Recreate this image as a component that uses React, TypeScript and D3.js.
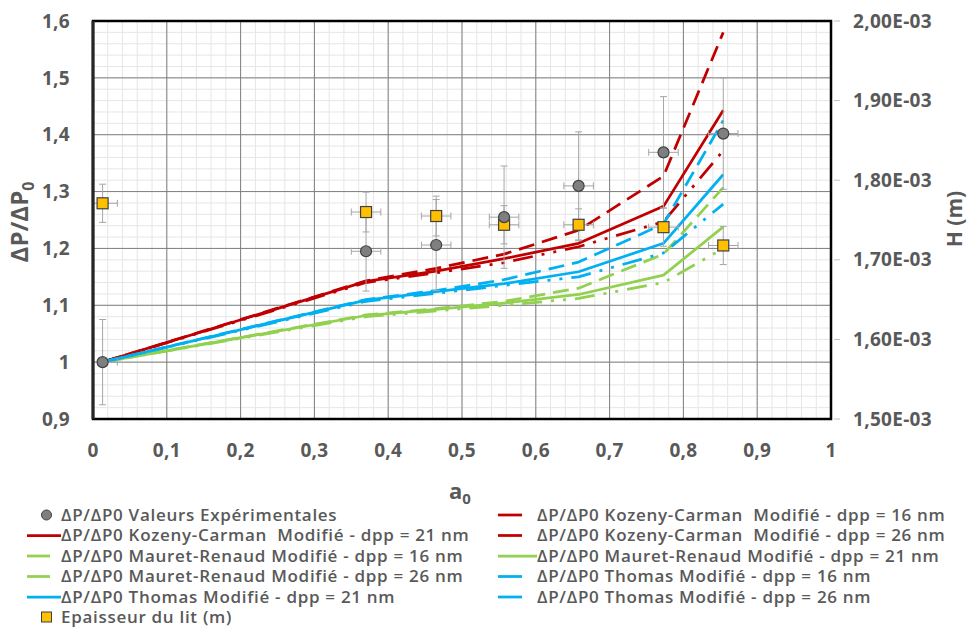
import React from "react";
import * as d3 from "d3";

// ---------- data ----------
const a0 = [0.013, 0.37, 0.465, 0.557, 0.658, 0.773, 0.854];
const a0Err = [0.02, 0.02, 0.02, 0.02, 0.02, 0.02, 0.02];
const expValues = [1.0, 1.195, 1.206, 1.255, 1.31, 1.369, 1.402];
const expErr = [0.075, 0.07, 0.08, 0.09, 0.095, 0.098, 0.098];
const bedThickness = [1.771e-3, 1.760e-3, 1.755e-3, 1.744e-3, 1.744e-3, 1.741e-3, 1.718e-3];
const bedErr = [2.4e-5, 2.5e-5, 2.5e-5, 2.4e-5, 2.0e-5, 2.4e-5, 2.4e-5];

const kc16 = [1.0, 1.143, 1.165, 1.19, 1.232, 1.327, 1.58];
const kc21 = [1.0, 1.142, 1.16, 1.182, 1.209, 1.274, 1.443];
const kc26 = [1.0, 1.14, 1.157, 1.175, 1.203, 1.247, 1.372];
const mr16 = [1.0, 1.083, 1.094, 1.107, 1.13, 1.19, 1.307];
const mr21 = [1.0, 1.082, 1.093, 1.104, 1.119, 1.153, 1.238];
const mr26 = [1.0, 1.08, 1.09, 1.1, 1.112, 1.14, 1.2];
const th16 = [1.0, 1.11, 1.126, 1.145, 1.176, 1.243, 1.425];
const th21 = [1.0, 1.109, 1.124, 1.138, 1.159, 1.209, 1.33];
const th26 = [1.0, 1.107, 1.121, 1.135, 1.15, 1.192, 1.278];

const xTicks = [0, 0.1, 0.2, 0.3, 0.4, 0.5, 0.6, 0.7, 0.8, 0.9, 1];
const yLeftTicks = [0.9, 1.0, 1.1, 1.2, 1.3, 1.4, 1.5, 1.6];
const yRightTicks = [1.5e-3, 1.6e-3, 1.7e-3, 1.8e-3, 1.9e-3, 2.0e-3];

const RED = "#C00000";
const GREEN = "#92D050";
const BLUE = "#00B0F0";
const TEXT = "#595959";
const FONT = "'Open Sans', 'DejaVu Sans', sans-serif";

const DASH = "16 8";
const DASHDOTDOT = "20 9 3 9 3 9";

type Series = { name: string; values: number[]; color: string; dash: string | null };
const series: Series[] = [
  { name: "ΔP/ΔP0 Kozeny-Carman  Modifié - dpp = 16 nm", values: kc16, color: RED, dash: DASH },
  { name: "ΔP/ΔP0 Kozeny-Carman  Modifié - dpp = 21 nm", values: kc21, color: RED, dash: null },
  { name: "ΔP/ΔP0 Kozeny-Carman  Modifié - dpp = 26 nm", values: kc26, color: RED, dash: DASHDOTDOT },
  { name: "ΔP/ΔP0 Mauret-Renaud Modifié - dpp = 16 nm", values: mr16, color: GREEN, dash: DASH },
  { name: "ΔP/ΔP0 Mauret-Renaud Modifié - dpp = 21 nm", values: mr21, color: GREEN, dash: null },
  { name: "ΔP/ΔP0 Mauret-Renaud Modifié - dpp = 26 nm", values: mr26, color: GREEN, dash: DASHDOTDOT },
  { name: "ΔP/ΔP0 Thomas Modifié - dpp = 16 nm", values: th16, color: BLUE, dash: DASH },
  { name: "ΔP/ΔP0 Thomas Modifié - dpp = 21 nm", values: th21, color: BLUE, dash: null },
  { name: "ΔP/ΔP0 Thomas Modifié - dpp = 26 nm", values: th26, color: BLUE, dash: DASHDOTDOT },
];

const leftLegend = ["exp", 1, 3, 5, 7, "bed"];
const rightLegend = [0, 2, 4, 6, 8];

export default function App() {
  const W = 970, H = 638;
  const L = 93, R = 831, T = 21, B = 419;
  const x = d3.scaleLinear().domain([0, 1]).range([L, R]);
  const yL = d3.scaleLinear().domain([0.9, 1.6]).range([B, T]);
  const yR = d3.scaleLinear().domain([1.5e-3, 2.0e-3]).range([B, T]);

  const minorX = d3.range(0, 1.0001, 0.02);
  const minorY = d3.range(0.9, 1.6001, 0.02);

  const line = (vals: number[]) =>
    d3.line<number>().x((_, i) => x(a0[i])).y((v) => yL(v))(vals) || "";

  const fmtL = (v: number) => (Math.abs(v - 1) < 1e-9 ? "1" : d3.format(".1f")(v).replace(".", ","));
  const fmtR = (v: number) => d3.format(".2f")(v * 1000).replace(".", ",") + "E-03";
  const fmtX = (v: number) => (v === 0 ? "0" : v === 1 ? "1" : d3.format(".1f")(v).replace(".", ","));

  const rowY = [515, 535.5, 556, 576.5, 597, 617];
  const cap = 3.5;
  const legendText = { fontSize: 17, fontWeight: 600, fill: TEXT, letterSpacing: 0.7, style: { whiteSpace: "pre" as const } };
  const tickText = { fontSize: 19, fontWeight: 700, fill: TEXT, letterSpacing: 0.3 };

  return (
    <svg width={W} height={H} style={{ position: "absolute", left: 0, top: 0, background: "#fff" }} fontFamily={FONT}>
      <rect x={0} y={0} width={W} height={H} fill="#fff" />
      {/* minor grid */}
      {minorX.map((v, i) => (
        <line key={"mx" + i} x1={x(v)} x2={x(v)} y1={T} y2={B} stroke="#e6e6e6" strokeWidth={1} />
      ))}
      {minorY.map((v, i) => (
        <line key={"my" + i} x1={L} x2={R} y1={yL(v)} y2={yL(v)} stroke="#e6e6e6" strokeWidth={1} />
      ))}
      {/* major grid */}
      {xTicks.slice(1, -1).map((v, i) => (
        <line key={"gx" + i} x1={x(v)} x2={x(v)} y1={T} y2={B} stroke="#7f7f7f" strokeWidth={1} />
      ))}
      {yLeftTicks.slice(1, -1).map((v, i) => (
        <line key={"gy" + i} x1={L} x2={R} y1={yL(v)} y2={yL(v)} stroke="#7f7f7f" strokeWidth={1} />
      ))}

      {/* model lines */}
      {series.map((s, i) => (
        <path
          key={"s" + i}
          d={line(s.values)}
          fill="none"
          stroke={s.color}
          strokeWidth={2.75}
          strokeDasharray={s.dash || undefined}
          strokeLinejoin="round"
        />
      ))}

      {/* bed thickness error bars (secondary axis) */}
      {a0.map((a, i) => {
        const cx = x(a), cy = yR(bedThickness[i]);
        const y1 = yR(bedThickness[i] + bedErr[i]), y2 = yR(bedThickness[i] - bedErr[i]);
        const x1 = Math.max(L, x(a - a0Err[i])), x2 = x(a + a0Err[i]);
        return (
          <g key={"bed" + i} stroke="#a6a6a6" strokeWidth={1}>
            <line x1={cx} x2={cx} y1={y1} y2={y2} />
            <line x1={cx - cap} x2={cx + cap} y1={y1} y2={y1} />
            <line x1={cx - cap} x2={cx + cap} y1={y2} y2={y2} />
            <line x1={x1} x2={x2} y1={cy} y2={cy} />
            {x(a - a0Err[i]) >= L && <line x1={x1} x2={x1} y1={cy - cap} y2={cy + cap} />}
            <line x1={x2} x2={x2} y1={cy - cap} y2={cy + cap} />
          </g>
        );
      })}
      {/* experimental error bars */}
      {a0.map((a, i) => {
        const cx = x(a), cy = yL(expValues[i]);
        const y1 = yL(expValues[i] + expErr[i]), y2 = yL(expValues[i] - expErr[i]);
        const x1 = Math.max(L, x(a - a0Err[i])), x2 = x(a + a0Err[i]);
        return (
          <g key={"exe" + i} stroke="#a6a6a6" strokeWidth={1}>
            <line x1={cx} x2={cx} y1={y1} y2={y2} />
            <line x1={cx - cap} x2={cx + cap} y1={y1} y2={y1} />
            <line x1={cx - cap} x2={cx + cap} y1={y2} y2={y2} />
            <line x1={x1} x2={x2} y1={cy} y2={cy} />
            {x(a - a0Err[i]) >= L && <line x1={x1} x2={x1} y1={cy - cap} y2={cy + cap} />}
            <line x1={x2} x2={x2} y1={cy - cap} y2={cy + cap} />
          </g>
        );
      })}
      {a0.map((a, i) => (
        <rect key={"bm" + i} x={x(a) - 5.5} y={yR(bedThickness[i]) - 5.5} width={11} height={11}
          fill="#FFC000" stroke="#404040" strokeWidth={1.2} />
      ))}
      {a0.map((a, i) => (
        <circle key={"em" + i} cx={x(a)} cy={yL(expValues[i])} r={5.5} fill="#7f7f7f" stroke="#404040" strokeWidth={1.2} />
      ))}

      {/* frame */}
      <rect x={L} y={T} width={R - L} height={B - T} fill="none" stroke="#000" strokeWidth={2.5} />
      <line x1={L} x2={L} y1={T} y2={B} stroke="#262626" strokeWidth={3} />

      {/* left axis labels */}
      {yLeftTicks.map((v, i) => (
        <text key={"yl" + i} x={70} y={yL(v)} dy="0.35em" textAnchor="end" {...tickText}>
          {fmtL(v)}
        </text>
      ))}
      {/* right axis ticks + labels */}
      {yRightTicks.map((v, i) => (
        <g key={"yr" + i}>
          <line x1={834} x2={840} y1={yR(v)} y2={yR(v)} stroke="#bfbfbf" strokeWidth={1} />
          <text x={853} y={yR(v)} dy="0.35em" textAnchor="start" {...tickText}>
            {fmtR(v)}
          </text>
        </g>
      ))}
      {/* x axis labels */}
      {xTicks.map((v, i) => (
        <text key={"xl" + i} x={x(v)} y={450} dy="0.35em" textAnchor="middle" {...tickText}>
          {fmtX(v)}
        </text>
      ))}

      {/* axis titles */}
      <text x={460} y={491} dy="0.35em" textAnchor="middle" fontSize={22} fontWeight={700} fill={TEXT}>
        a<tspan fontSize={15} dy="5">0</tspan>
      </text>
      <text transform="translate(20,222) rotate(-90)" textAnchor="middle" dy="0.35em" fontSize={24} fontWeight={700} fill={TEXT}>
        ΔP/ΔP<tspan fontSize={16} dy="6">0</tspan>
      </text>
      <text transform="translate(955,219) rotate(-90)" textAnchor="middle" dy="0.35em" fontSize={21} fontWeight={700} fill={TEXT}>
        H (m)
      </text>

      {/* legend */}
      {leftLegend.map((item, r) => {
        const y = rowY[r];
        if (item === "exp") {
          return (
            <g key={"ll" + r}>
              <circle cx={46.5} cy={y} r={5} fill="#7f7f7f" stroke="#404040" strokeWidth={1} />
              <text x={61} y={y} dy="0.35em" {...legendText}>ΔP/ΔP0 Valeurs Expérimentales</text>
            </g>
          );
        }
        if (item === "bed") {
          return (
            <g key={"ll" + r}>
              <rect x={41.5} y={y - 5} width={10} height={10} fill="#FFC000" stroke="#404040" strokeWidth={1} />
              <text x={61} y={y} dy="0.35em" {...legendText}>Epaisseur du lit (m)</text>
            </g>
          );
        }
        const s = series[item as number];
        return (
          <g key={"ll" + r}>
            <line x1={27} x2={s.dash ? 50 : 61} y1={y} y2={y} stroke={s.color} strokeWidth={2.75} />
            <text x={61} y={y} dy="0.35em" {...legendText}>{s.name}</text>
          </g>
        );
      })}
      {rightLegend.map((idx, r) => {
        const y = rowY[r];
        const s = series[idx];
        return (
          <g key={"rl" + r}>
            <line x1={498} x2={s.dash ? 522 : 537} y1={y} y2={y} stroke={s.color} strokeWidth={2.75} />
            <text x={537} y={y} dy="0.35em" {...legendText}>{s.name}</text>
          </g>
        );
      })}
    </svg>
  );
}
